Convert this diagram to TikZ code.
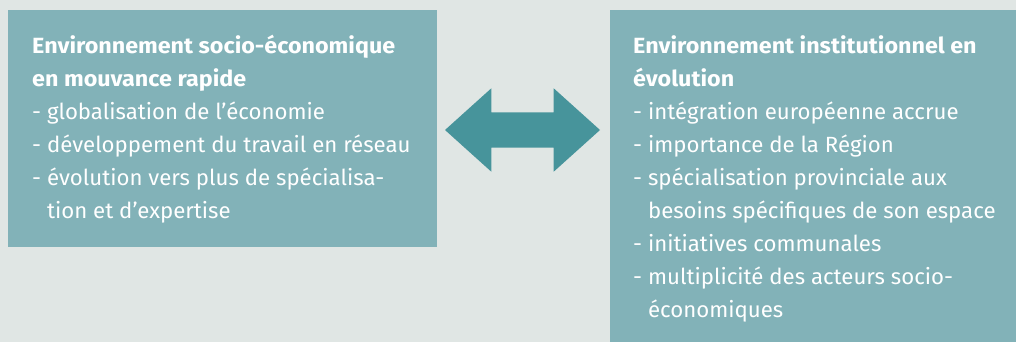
\documentclass[tikz,border=0pt]{standalone}
\usepackage{fontspec}
\setmainfont{Fira Sans}[FakeStretch=1.01,BoldFeatures={FakeStretch=1.06}]
\usetikzlibrary{positioning,shapes.arrows}
\definecolor{bgcol}{RGB}{224,230,228}
\definecolor{boxcol}{RGB}{130,178,184}
\definecolor{arrowcol}{RGB}{71,148,155}

\begin{document}
\begin{tikzpicture}
  [x=1pt,y=-1pt,
  box/.style={rectangle,fill=boxcol,inner sep=0pt,anchor=north west},
  blurb/.style={text=white,inner sep=0pt,align=left,font=\fontsize{22}{33}\selectfont},
  link/.style={double arrow,fill=arrowcol,inner xsep=0pt,inner ysep=17.5pt,double arrow tip angle=84}
  ]
  \fill[bgcol] (0,0) rectangle (1016,342);
  \useasboundingbox (0,0) rectangle (1016,342);
  \node[box,minimum width=429pt,minimum height=237pt] (socio) at (8,10) {};
  \node[box,minimum width=406pt,minimum height=332pt] (inst) at (610,10) {};
  \node[link,minimum height=155pt,minimum width=83pt,double arrow head extend=24pt] (both) at (522.5,130) {};
  \node[blurb,below right=19.9pt and 24pt of socio.north west] (sociotxt)
  {\strut\textbf{Environnement socio-économique}\\\textbf{en mouvance rapide}\\- globalisation de l’économie\\- développement du travail en réseau\\- évolution vers plus de spécialisa-\\\phantom{- }tion et d’expertise};
  \node[blurb,below right=19.9pt and 23pt of inst.north west] (insttxt)
  {\strut\textbf{Environnement institutionnel en}\\\textbf{évolution}\\- intégration européenne accrue\\- importance de la Région\\- spécialisation provinciale aux\\\phantom{- }besoins spécifiques de son espace\\- initiatives communales\\- multiplicité des acteurs socio-\\\phantom{- }économiques};
\end{tikzpicture}
\end{document}
